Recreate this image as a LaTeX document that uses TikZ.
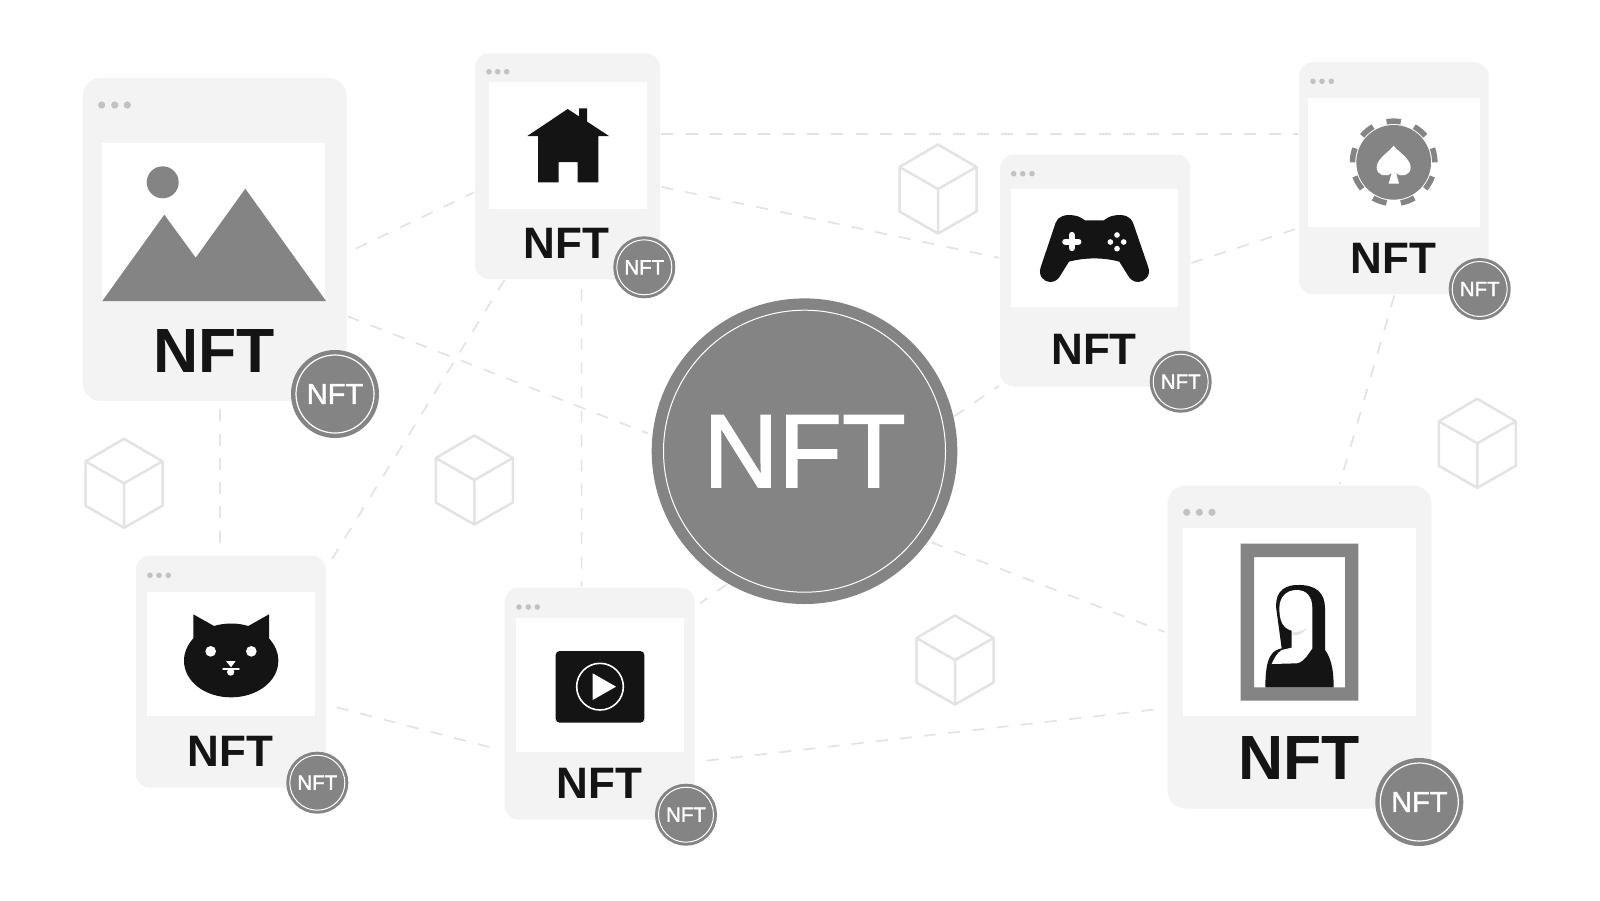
\documentclass[tikz,border=0pt]{standalone}
\usepackage{fontspec}
\setmainfont{Liberation Sans}
\newfontfamily\nftfont[FakeBold=1.6]{Liberation Sans}
\definecolor{cardgray}{HTML}{F3F3F3}
\definecolor{nftgray}{HTML}{848484}
\definecolor{iconblack}{HTML}{141414}
\definecolor{dotgray}{HTML}{C2C2C2}
\definecolor{linegray}{HTML}{E3E3E3}

\begin{document}
\begin{tikzpicture}[x=1pt,y=-1pt,
    bigcard/.style={rectangle,rounded corners=18pt,fill=cardgray,inner sep=0pt,
      minimum width=264pt,minimum height=323pt},
    smallcard/.style={rectangle,rounded corners=14pt,fill=cardgray,inner sep=0pt,
      minimum width=190pt,minimum height=232pt},
    screen/.style={rectangle,fill=white,inner sep=0pt},
    bigname/.style={font=\fontsize{62.5}{64}\selectfont\bfseries,text=iconblack,inner sep=0pt},
    smallname/.style={font=\fontsize{44}{44}\selectfont\bfseries,text=iconblack,inner sep=0pt},
    bigbadge/.style={circle,draw=nftgray,double=white,fill=nftgray,text=white,inner sep=0pt,
      line width=4.4pt,double distance=1.2pt,minimum size=78pt,
      font=\nftfont\fontsize{29}{29}\selectfont},
    smallbadge/.style={circle,draw=nftgray,double=white,fill=nftgray,text=white,inner sep=0pt,
      line width=3pt,double distance=1pt,minimum size=55pt,
      font=\nftfont\fontsize{20.5}{20.5}\selectfont},
    mainbadge/.style={circle,draw=nftgray,double=white,fill=nftgray,text=white,inner sep=0pt,
      line width=11.3pt,double distance=1pt,minimum size=282pt,outer sep=11.8pt,
      font=\nftfont\fontsize{104}{104}\selectfont},
    link/.style={draw=linegray,line width=1.7pt,dash pattern=on 12pt off 12.3pt,
      shorten <=1pt,shorten >=1pt},
    cubeline/.style={draw=linegray,line width=2.5pt,line join=round},
    dot/.style={fill=dotgray}]

    \useasboundingbox[fill=white] (0,0) rectangle (1600,900);

    % cubes
    \foreach \cx/\cy in {124/483.3,474.3/480,938/189,955/660,1477.3/443.3}
      \draw[cubeline] (\cx,\cy-44.5) -- (\cx+38.5,\cy-22) -- (\cx+38.5,\cy+22.5)
        -- (\cx,\cy+44.5) -- (\cx-38.5,\cy+22.5) -- (\cx-38.5,\cy-22) -- cycle
        (\cx-38.5,\cy-22) -- (\cx,\cy) -- (\cx+38.5,\cy-22) (\cx,\cy) -- (\cx,\cy+44.5);

    % cards
    \node[bigcard] (cardImage) at (214.7,239.5) {};
    \node[smallcard,minimum width=185pt,minimum height=225.6pt] (cardHouse) at (567.5,166.2) {};
    \node[smallcard] (cardGame) at (1095,270.5) {};
    \node[smallcard,minimum width=189.6pt] (cardChip) at (1393.8,178.2) {};
    \node[smallcard] (cardCat) at (230.8,671.7) {};
    \node[smallcard] (cardVideo) at (599.7,703.7) {};
    \node[bigcard] (cardMona) at (1299.5,647) {};

    \node[screen,minimum width=223pt,minimum height=158.3pt] (screenImage) at (213.5,221.8) {};
    \node[screen,minimum width=158.3pt,minimum height=127pt] (screenHouse) at (567.8,145.8) {};
    \node[screen,minimum width=166.7pt,minimum height=118.3pt] (screenGame) at (1094.3,248.2) {};
    \node[screen,minimum width=171.7pt,minimum height=129pt] (screenChip) at (1393.8,162.2) {};
    \node[screen,minimum width=167.7pt,minimum height=124pt] (screenCat) at (231.2,654) {};
    \node[screen,minimum width=167.7pt,minimum height=134pt] (screenVideo) at (600.2,685) {};
    \node[screen,minimum width=233.3pt,minimum height=188.3pt] (screenMona) at (1299.3,621.8) {};

    \node[bigname] (nameImage) at (214,350.5) {NFT};
    \node[smallname] (nameHouse) at (566.7,243.5) {NFT};
    \node[smallname] (nameGame) at (1094,349.5) {NFT};
    \node[smallname] (nameChip) at (1393.5,258) {NFT};
    \node[smallname] (nameCat) at (230.7,751.5) {NFT};
    \node[smallname] (nameVideo) at (599.5,783.8) {NFT};
    \node[bigname] (nameMona) at (1299,758) {NFT};

    % window dots
    \foreach \dx/\dy in {101.7/105,114.7/105,127.3/105,1186.7/512.3,1199.3/512.3,1212/512.3}
      \fill[dot] (\dx,\dy) circle [radius=3.6];
    \foreach \dx/\dy in {489/71.7,497.7/71.7,506.7/71.7,1013.7/173.7,1022.7/173.7,1032/173.7,
        1313/81.3,1322/81.3,1331.3/81.3,150/575.3,159/575.3,168.3/575.3,519/607,528.3/607,537.3/607}
      \fill[dot] (\dx,\dy) circle [radius=2.8];

    \node[mainbadge] (mainNft) at (804.5,451.2) {NFT};

    \path[link]
      ([yshift=-13.4pt]cardImage.east) edge[shorten <=10pt] ([yshift=-25.8pt]cardHouse.west)
      ([yshift=-76.5pt]cardImage.east) edge[shorten >=5pt] (mainNft.174)
      ([xshift=5.3pt]cardImage.south) edge[shorten <=8pt,shorten >=9pt] ([xshift=-10.8pt]cardCat.north)
      ([xshift=-62.5pt]cardHouse.south) edge[shorten >=3pt] ([yshift=103.1pt]cardCat.east)
      ([xshift=14.1pt]cardHouse.south) edge[shorten <=10pt] ([xshift=-18.1pt]cardVideo.north)
      ([yshift=32.5pt]cardHouse.east) edge ([yshift=44.5pt]cardChip.west)
      ([yshift=-20.4pt]cardHouse.east) edge ([yshift=12.5pt]cardGame.west)
      ([yshift=7.2pt]cardGame.east) edge[shorten >=4pt] ([yshift=-49.8pt]cardChip.west)
      ([xshift=0.8pt]cardChip.south) edge ([xshift=39.8pt]cardMona.north)
      (mainNft.13) edge ([yshift=-114.8pt]cardGame.west)
      (mainNft.-36) edge[shorten <=4pt,shorten >=3pt] ([yshift=14pt]cardMona.west)
      (mainNft.240) edge[shorten >=6pt] ([yshift=96.8pt]cardVideo.east)
      ([yshift=-32.8pt]cardCat.east) edge[shorten <=11pt,shorten >=10pt] ([yshift=-47.3pt]cardVideo.west)
      ([yshift=-58.3pt]cardVideo.east) edge[shorten <=12pt,shorten >=10pt] ([yshift=-61pt]cardMona.west);

    \node[bigbadge] (badgeImage) at (335,394) {NFT};
    \node[smallbadge] (badgeHouse) at (644.3,267.3) {NFT};
    \node[smallbadge] (badgeGame) at (1180.7,381.7) {NFT};
    \node[smallbadge] (badgeChip) at (1479.7,289) {NFT};
    \node[smallbadge] (badgeCat) at (317.3,782.7) {NFT};
    \node[smallbadge] (badgeVideo) at (686,814.7) {NFT};
    \node[bigbadge] (badgeMona) at (1419.3,802) {NFT};

    % picture icon
    \fill[nftgray] (162.7,182.3) circle [radius=16];
    \fill[nftgray] (102.3,301) -- (164.3,214.7) -- (195.7,257.7) -- (245.3,188.7) -- (326,301) -- cycle;

    % house icon
    \fill[iconblack] (567.7,109) -- (579,116.4) -- (579,108.3) -- (587,108.3) -- (587,121.6)
      -- (609,136) -- (598.3,136) -- (598.3,182.3) -- (577.7,182.3) -- (577.7,162)
      -- (558.7,162) -- (558.7,182.3) -- (538,182.3) -- (538,136) -- (527.3,136) -- cycle;

    % gamepad icon
    \begin{scope}[shift={(990,150)},scale=1/3]
      \fill[iconblack] (152,352) -- (197,218) .. controls (203,200) and (225,192) .. (250,196)
        .. controls (268,198) and (275,205) .. (285,211) -- (341,211)
        .. controls (351,205) and (358,198) .. (376,196)
        .. controls (401,192) and (423,200) .. (429,218) -- (475,352)
        .. controls (484,378) and (462,396) .. (445,396)
        .. controls (430,396) and (420,388) .. (413,375) -- (388,335)
        .. controls (340,322) and (286,322) .. (237,335) -- (212,375)
        .. controls (205,388) and (195,396) .. (180,396)
        .. controls (163,396) and (143,378) .. (152,352) -- cycle;
      \draw[white,line width=6.3pt,line cap=round] (226,275) -- (265,275) (245.5,255) -- (245.5,294);
      \foreach \bx/\by in {381/255,361/276,401/276,381/296}
        \fill[white] (\bx,\by) circle [radius=8.5];
    \end{scope}

    % chip icon
    \begin{scope}[shift={(1290,60)},scale=1/3]
      \fill[nftgray] (311,307) circle [radius=112];
      \foreach \a in {-90,-50,-10,30,70,110,150,190,230}
        \draw[nftgray,line width=5.5pt] (311,307) ++(\a-10:123.5) arc [start angle=\a-10,end angle=\a+10,radius=123.5];
      \fill[white] (311,257) .. controls (320,272) and (362,295) .. (362,322)
        .. controls (362,347) and (332,354) .. (318,338) -- (327,371) -- (296,371) -- (305,338)
        .. controls (290,354) and (260,347) .. (260,322)
        .. controls (260,295) and (302,272) .. (311,257) -- cycle;
    \end{scope}

    % cat icon
    \begin{scope}[shift={(130,550)},scale=1/3]
      \fill[iconblack] (190,193) -- (252,228) .. controls (285,218) and (322,218) .. (355,228)
        -- (417,193) -- (417,265) .. controls (435,285) and (445,308) .. (445,332)
        .. controls (445,395) and (380,442) .. (303,442)
        .. controls (226,442) and (162,395) .. (162,332)
        .. controls (162,308) and (172,285) .. (190,265) -- cycle;
      \fill[white] (242,304) circle [radius=16];
      \fill[white] (364,304) circle [radius=16];
      \fill[white] (288,333) -- (317,333) -- (303,352) -- cycle;
      \draw[white,line width=2.5pt,line cap=round] (280,357) -- (326,357);
      \fill[white] (302,366) circle [radius=11];
    \end{scope}

    % video icon
    \begin{scope}[shift={(500,580)},scale=1/3]
      \fill[iconblack,rounded corners=4pt] (167,213) rectangle (433,428);
      \draw[white,line width=1.6pt] (300,320) circle [radius=70];
      \fill[white] (278,280) -- (348,320) -- (278,360) -- cycle;
    \end{scope}

    % portrait icon
    \begin{scope}[shift={(1150,480)},scale=1/3]
      \fill[nftgray,even odd rule] (272,191) rectangle (625,662) (312,231) rectangle (585,622);
      \fill[iconblack] (346,622) .. controls (346,580) and (350,545) .. (362,527)
        .. controls (370,513) and (382,508) .. (395,505) -- (380,395)
        .. controls (372,350) and (390,316) .. (440,315)
        .. controls (500,313) and (525,340) .. (525,385) -- (525,510)
        .. controls (540,530) and (551,560) .. (551,622) -- cycle;
      \fill[white] (388,385) .. controls (388,350) and (410,330) .. (440,330)
        .. controls (470,330) and (487,350) .. (487,385) -- (487,505)
        .. controls (475,520) and (465,545) .. (440,550) -- (365,552)
        .. controls (372,535) and (382,518) .. (395,510) -- (425,503) -- (425,452)
        .. controls (400,445) and (388,425) .. (388,385) -- cycle;
      \fill[linegray] (428,456) .. controls (445,458) and (460,452) .. (470,443)
        .. controls (462,460) and (445,468) .. (428,466) -- cycle;
    \end{scope}
\end{tikzpicture}
\end{document}
